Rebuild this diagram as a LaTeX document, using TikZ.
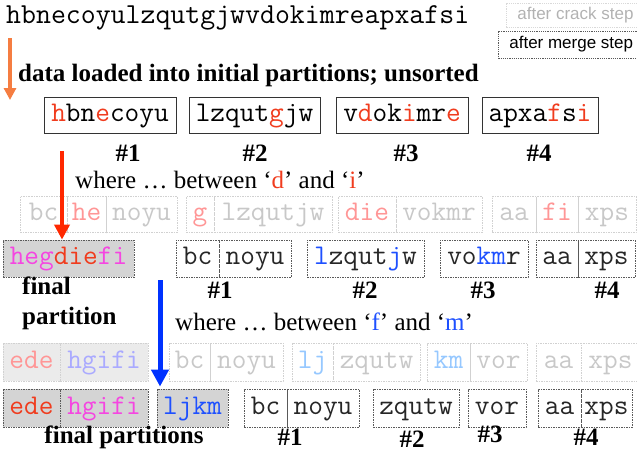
\documentclass[tikz,border=0pt]{standalone}
\usepackage{fontspec}
\setmainfont{Liberation Serif}
\setsansfont{Liberation Sans}
\usepackage{tikz}
\usetikzlibrary{arrows.meta}
\usetikzlibrary{calc}

\definecolor{cutred}{RGB}{240,60,30}
\definecolor{cutmag}{RGB}{245,70,225}
\definecolor{cutblue}{RGB}{30,80,255}
\definecolor{ghostred}{RGB}{255,150,150}
\definecolor{ghostblue}{RGB}{150,200,255}
\definecolor{ghostlav}{RGB}{170,170,255}
\definecolor{ghostgray}{RGB}{200,200,200}
\definecolor{loadorange}{RGB}{245,125,65}
\definecolor{crackred}{RGB}{255,40,0}
\definecolor{mergeblue}{RGB}{0,50,255}

\begin{document}
\begin{tikzpicture}[
                x=1pt, y=-1pt,
                cell/.style={
                        rectangle,
                        inner sep=0pt,
                        text height=17.5pt,
                        text depth=5pt,
                        font=\fontsize{28.5}{30}\ttfamily\selectfont
                    },
                loadbox/.style={cell, draw=black!80, line width=0.9pt, minimum height=36pt},
                mergebox/.style={cell, draw=black!65, dash pattern=on 1.5pt off 1pt, line width=0.8pt, minimum height=37pt, text=black!85},
                finalbox/.style={mergebox, fill=black!17},
                crackbox/.style={cell, draw=black!18, dash pattern=on 1.5pt off 1pt, line width=0.8pt, minimum height=36pt, text=ghostgray},
                ghostfinal/.style={crackbox, fill=black!8},
                numlabel/.style={font=\fontsize{25}{28}\bfseries\selectfont, inner sep=0pt},
                textnode/.style={font=\fontsize{25}{30}\selectfont, inner sep=0pt, anchor=west, align=left},
                legend/.style={font=\fontsize{17}{19}\sffamily\selectfont, inner xsep=11pt, inner ysep=0pt, anchor=west, dash pattern=on 1.2pt off 1pt, line width=0.7pt},
                bigarrow/.style={-{Triangle[width=#1, length=#1]}}
            ]

            \clip (0,0) rectangle (637,456);

            % raw input and legend
            \node[cell, anchor=west, font=\fontsize{29}{30}\ttfamily\selectfont] (input) at (6,17) {hbnecoyulzqutgjwvdokimreapxafsi};
            \node[legend, draw=black!15, text=black!30, minimum height=24pt] (lgcrack) at (506,15) {after crack step};
            \node[legend, draw=black!65, minimum height=27pt] (lgmerge) at (498,44.5) {after merge step};

            % loading
            \coordinate (otop) at (10,38);
            \coordinate (obot) at (10,100);
            \draw[bigarrow=12pt, loadorange, line width=4pt] (otop) -- (obot);
            \node[textnode, font=\fontsize{25}{28}\bfseries\selectfont] (loadtext) at (18,75) {data loaded into initial partitions; unsorted};

            \node[loadbox, minimum width=132pt] (p1) at (110,115) {\textcolor{cutred}{h}bn\textcolor{cutred}{e}coyu};
            \node[loadbox, minimum width=131pt] (p2) at (254.5,115) {lzqut\textcolor{cutred}{g}jw};
            \node[loadbox, minimum width=132pt] (p3) at (402,115) {v\textcolor{cutred}{d}ok\textcolor{cutred}{i}mr\textcolor{cutred}{e}};
            \node[loadbox, minimum width=116pt] (p4) at (540,115) {apxa\textcolor{cutred}{f}s\textcolor{cutred}{i}};

            \node[numlabel] (n1a) at (128,153) {\#1};
            \node[numlabel] (n1b) at (255,153) {\#2};
            \node[numlabel] (n1c) at (406,153) {\#3};
            \node[numlabel] (n1d) at (539,153) {\#4};

            % first query: d..i
            \node[textnode] (q1) at (75,180) {where \dots\ between `\textcolor{cutred}{d}' and `\textcolor{cutred}{i}'};

            \node[crackbox, minimum width=47pt] (c2a) at (43.5,214.5) {bc};
            \node[crackbox, minimum width=39pt, text=ghostred] (c2b) at (86.5,214.5) {he};
            \node[crackbox, minimum width=71pt] (c2c) at (141.5,214.5) {noyu};
            \node[crackbox, minimum width=28pt, text=ghostred] (c2d) at (200,214.5) {g};
            \node[crackbox, minimum width=118pt] (c2e) at (273,214.5) {lzqutjw};
            \node[crackbox, minimum width=58pt, text=ghostred] (c2f) at (367,214.5) {die};
            \node[crackbox, minimum width=86pt] (c2g) at (439,214.5) {vokmr};
            \node[crackbox, minimum width=44pt] (c2h) at (514,214.5) {aa};
            \node[crackbox, minimum width=42pt, text=ghostred] (c2i) at (557,214.5) {fi};
            \node[crackbox, minimum width=58pt] (c2j) at (607,214.5) {xps};

            \coordinate (rtop) at (62,151);
            \node[finalbox, minimum width=131pt] (f2) at (68.5,258.5) {\textcolor{cutmag}{heg}\textcolor{cutred}{die}\textcolor{cutmag}{fi}};
            \draw[bigarrow=15pt, crackred, line width=4.5pt] (rtop) -- (rtop |- f2.north);

            \node[mergebox, minimum width=43pt] (m2a) at (197.5,258.5) {bc};
            \node[mergebox, minimum width=72pt] (m2b) at (255,258.5) {noyu};
            \node[mergebox, minimum width=117pt] (m2c) at (365.5,258.5) {\textcolor{cutblue}{l}zqut\textcolor{cutblue}{j}w};
            \node[mergebox, minimum width=88pt] (m2d) at (484,258.5) {vo\textcolor{cutblue}{km}r};
            \node[mergebox, minimum width=42pt] (m2e) at (557,258.5) {aa};
            \node[mergebox, minimum width=57pt] (m2f) at (606.5,258.5) {xps};

            \node[textnode, font=\fontsize{25}{30}\bfseries\selectfont] (fin2) at (22,303) {final\\partition};
            \node[numlabel] (n2a) at (220,290) {\#1};
            \node[numlabel] (n2b) at (365,290) {\#2};
            \node[numlabel] (n2c) at (483,290) {\#3};
            \node[numlabel] (n2d) at (607,290) {\#4};

            % second query: f..m
            \node[textnode] (q2) at (175,322) {where \dots\ between `\textcolor{cutblue}{f}' and `\textcolor{cutblue}{m}'};

            \node[ghostfinal, minimum width=57pt, minimum height=38pt, text=ghostred] (c3a) at (31.5,362) {ede};
            \node[ghostfinal, minimum width=88pt, minimum height=38pt, text=ghostlav] (c3b) at (104,362) {hgifi};
            \node[crackbox, minimum width=41pt, minimum height=38pt] (c3c) at (189.5,362) {bc};
            \node[crackbox, minimum width=73pt, minimum height=38pt] (c3d) at (246.5,362) {noyu};
            \node[crackbox, minimum width=41pt, minimum height=38pt, text=ghostblue] (c3e) at (312.5,362) {lj};
            \node[crackbox, minimum width=87pt, minimum height=38pt] (c3f) at (376.5,362) {zqutw};
            \node[crackbox, minimum width=43pt, minimum height=38pt, text=ghostblue] (c3g) at (448.5,362) {km};
            \node[crackbox, minimum width=57pt, minimum height=38pt] (c3h) at (498.5,362) {vor};
            \node[crackbox, minimum width=45pt, minimum height=38pt] (c3i) at (558.5,362) {aa};
            \node[crackbox, minimum width=59pt, minimum height=38pt] (c3j) at (610.5,362) {xps};

            \node[finalbox, minimum width=57pt, minimum height=38pt, text=cutred] (f3a) at (31.5,408) {ede};
            \node[finalbox, minimum width=88pt, minimum height=38pt, text=cutmag] (f3b) at (104,408) {hgifi};
            \node[finalbox, minimum width=71pt, minimum height=38pt, text=cutblue] (f3c) at (192.5,408) {ljkm};

            \coordinate (btop) at (160,280);
            \draw[bigarrow=17pt, mergeblue, line width=5pt] (btop) -- ($(btop |- f3c.north)+(0,-2)$);

            \node[mergebox, minimum width=43pt, minimum height=38pt] (m3a) at (265.5,408) {bc};
            \node[mergebox, minimum width=72pt, minimum height=38pt] (m3b) at (323,408) {noyu};
            \node[mergebox, minimum width=86pt, minimum height=38pt] (m3c) at (416,408) {zqutw};
            \node[mergebox, minimum width=58pt, minimum height=38pt] (m3d) at (497,408) {vor};
            \node[mergebox, minimum width=43pt, minimum height=38pt] (m3e) at (559.5,408) {aa};
            \node[mergebox, minimum width=51pt, minimum height=38pt] (m3f) at (606.5,408) {xps};

            \node[numlabel] (fin3) at (124,437) {final partitions};
            \node[numlabel] (n3a) at (290,437) {\#1};
            \node[numlabel] (n3b) at (412,439) {\#2};
            \node[numlabel] (n3c) at (490,434) {\#3};
            \node[numlabel] (n3d) at (586,437) {\#4};

        \end{tikzpicture}
\end{document}
